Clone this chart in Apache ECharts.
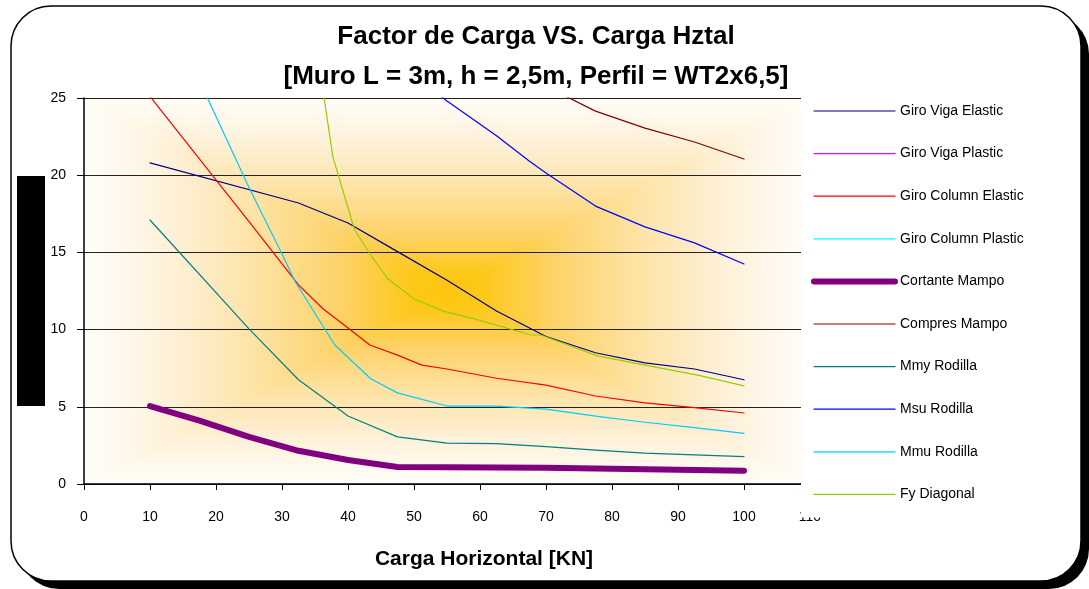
<!DOCTYPE html>
<html>
<head>
<meta charset="utf-8">
<script src="https://cdn.jsdelivr.net/npm/echarts@6/dist/echarts.min.js"></script>
<style>
  html, body { margin: 0; padding: 0; background: #fff; }
  #chart { width: 1089px; height: 589px; }
</style>
</head>
<body>
<div id="chart"></div>
<script>
// each series keeps its own load values (x) and factor values (y)
var seriesNames = ['Giro Viga Elastic', 'Giro Viga Plastic', 'Giro Column Elastic', 'Giro Column Plastic',
    'Cortante Mampo', 'Compres Mampo', 'Mmy Rodilla', 'Msu Rodilla', 'Mmu Rodilla', 'Fy Diagonal'];

var giroVigaElasticX = [10, 32.5, 40, 47.5, 55, 62.5, 70, 77.5, 85, 92.5, 100];
var giroVigaElasticY = [20.8, 18.2, 16.9, 15.05, 13.2, 11.2, 9.55, 8.5, 7.85, 7.45, 6.75];

// plastic rotations stay above the axis range, nothing visible
var giroVigaPlasticX = [];
var giroVigaPlasticY = [];

var giroColElasticX = [10, 25, 32.5, 36.2, 40, 43.3, 47.5, 51.2, 55, 62.5, 70, 77.5, 85, 92.5, 100];
var giroColElasticY = [25.1, 17.0, 12.9, 11.35, 10.1, 9.0, 8.35, 7.7, 7.45, 6.85, 6.4, 5.7, 5.25, 4.95, 4.6];

var giroColPlasticX = [];
var giroColPlasticY = [];

var cortanteX = [10, 17.5, 25, 32.5, 40, 47.5, 55, 62.5, 70, 77.5, 85, 92.5, 100];
var cortanteY = [5.05, 4.1, 3.05, 2.15, 1.55, 1.1, 1.08, 1.07, 1.06, 1.0, 0.95, 0.9, 0.86];

var compresX = [70, 77.5, 85, 92.5, 100];
var compresY = [25.75, 24.15, 23.05, 22.15, 21.05];

var mmyX = [10, 25, 32.5, 40, 47.5, 55, 62.5, 70, 77.5, 85, 92.5, 100];
var mmyY = [17.1, 10.05, 6.75, 4.4, 3.05, 2.65, 2.62, 2.42, 2.2, 2.0, 1.88, 1.77];

var msuX = [47.5, 55, 62.5, 67.5, 70, 77.5, 85, 92.5, 100];
var msuY = [27.3, 24.8, 22.55, 20.9, 20.15, 18.0, 16.65, 15.62, 14.25];

var mmuX = [17.5, 25, 30, 32, 38, 43.5, 47.5, 55, 62.5, 70, 77.5, 85, 92.5, 100];
var mmuY = [26.1, 19.2, 14.9, 13.1, 9.0, 6.8, 5.9, 5.05, 5.05, 4.85, 4.4, 4.0, 3.65, 3.28];

var fyX = [35, 37.7, 41, 43.5, 46, 50, 54.5, 60, 67.7, 69.2, 77.8, 85, 93, 100];
var fyY = [29, 21.2, 16.45, 14.8, 13.3, 12.0, 11.2, 10.6, 9.65, 9.65, 8.3, 7.7, 7.05, 6.35];

var xTicks = [0, 110, 10];
var yTicks = [0, 25, 5];

var allX = [giroVigaElasticX, giroVigaPlasticX, giroColElasticX, giroColPlasticX, cortanteX,
    compresX, mmyX, msuX, mmuX, fyX];
var allY = [giroVigaElasticY, giroVigaPlasticY, giroColElasticY, giroColPlasticY, cortanteY,
    compresY, mmyY, msuY, mmuY, fyY];
var colors = ['#000080', '#ff00ff', '#ff0000', '#00ffff', '#800080',
    '#800000', '#008080', '#0000ff', '#00ccff', '#99cc00'];

function pairs(xs, ys) {
    var out = [];
    for (var i = 0; i < xs.length; i++) out.push([xs[i], ys[i]]);
    return out;
}

var series = [];
for (var i = 0; i < seriesNames.length; i++) {
    var thick = seriesNames[i] === 'Cortante Mampo';
    series.push({
        name: seriesNames[i],
        type: 'line',
        symbol: 'none',
        clip: true,
        data: pairs(allX[i], allY[i]),
        lineStyle: { color: colors[i], width: thick ? 6 : 1.2, cap: 'round', join: 'round' },
        itemStyle: { color: colors[i] },
        emphasis: { disabled: true }
    });
}

var font = 'Liberation Sans, Arial, sans-serif';
var gL = 84, gT = 98, gW = 726, gH = 386;
var gR = gL + gW, gB = gT + gH, cx = gL + gW / 2, cy = gT + gH / 2;

// plot fill: yellow from the centre, rectangular like the spreadsheet one
var fillStops = [
    { offset: 0, color: '#fdc60a' },
    { offset: 0.1, color: '#fdc81a' },
    { offset: 0.3, color: '#fdd369' },
    { offset: 0.55, color: '#fde4aa' },
    { offset: 0.75, color: '#fef0d6' },
    { offset: 0.9, color: '#fff8ec' },
    { offset: 1, color: '#fffdf9' }
];
function lin(x, y, x2, y2) {
    return { type: 'linear', x: x, y: y, x2: x2, y2: y2, colorStops: fillStops };
}
function tri(points, fill) {
    return { type: 'polygon', z: -20, shape: { points: points }, style: { fill: fill, stroke: fill, lineWidth: 0.6 } };
}
var fillParts = [
    tri([[gL, gT], [gR, gT], [cx, cy]], lin(0, 1, 0, 0)),
    tri([[gL, gB], [gR, gB], [cx, cy]], lin(0, 0, 0, 1)),
    tri([[gL, gT], [gL, gB], [cx, cy]], lin(1, 0, 0, 0)),
    tri([[gR, gT], [gR, gB], [cx, cy]], lin(0, 0, 1, 0))
];

var chart = echarts.init(document.getElementById('chart'));
chart.setOption({
    animation: false,
    title: [{
        text: 'Factor de Carga VS. Carga Hztal\n[Muro L = 3m, h = 2,5m, Perfil = WT2x6,5]',
        left: 531,
        top: 12,
        textAlign: 'center',
        textStyle: { fontFamily: font, fontSize: 26, fontWeight: 'bold', color: '#000', lineHeight: 40 }
    }, {
        text: 'Carga Horizontal [KN]',
        left: 479,
        top: 544,
        textAlign: 'center',
        textStyle: { fontFamily: font, fontSize: 21, fontWeight: 'bold', color: '#000' }
    }],
    legend: {
        orient: 'vertical',
        left: 801,
        top: 98,
        padding: [6, 12, 16, 10],
        backgroundColor: '#fff',
        itemWidth: 81,
        itemHeight: 14,
        itemGap: 28.6,
        selectedMode: false,
        data: seriesNames,
        itemStyle: { opacity: 0 },
        lineStyle: { width: 'inherit' },
        textStyle: { fontFamily: font, fontSize: 14, color: '#000' }
    },
    grid: { left: gL, top: gT, width: gW, height: gH },
    xAxis: {
        type: 'value',
        min: xTicks[0],
        max: xTicks[1],
        interval: xTicks[2],
        axisLine: { lineStyle: { color: '#000', width: 1.5 } },
        axisTick: { length: 6, lineStyle: { color: '#000' } },
        axisLabel: { margin: 26, fontFamily: font, fontSize: 14, color: '#000' },
        splitLine: { show: false }
    },
    yAxis: {
        type: 'value',
        min: yTicks[0],
        max: yTicks[1],
        interval: yTicks[2],
        axisLine: { show: true, lineStyle: { color: '#000', width: 1.5 } },
        axisTick: { show: true, length: 7, lineStyle: { color: '#000' } },
        axisLabel: { margin: 18, fontFamily: font, fontSize: 14, color: '#000' },
        splitLine: { show: true, lineStyle: { color: '#222', width: 1 } }
    },
    graphic: [{
        // outer frame shadow
        type: 'rect',
        z: -30,
        shape: { x: 19, y: 14, width: 1070, height: 575, r: 40 },
        style: { fill: '#000' }
    }, {
        type: 'rect',
        z: -29,
        shape: { x: 11, y: 6, width: 1070, height: 575, r: 40 },
        style: { fill: '#fff', stroke: '#000', lineWidth: 1.5 }
    }].concat(fillParts).concat([{
        // black block left of the value axis
        type: 'rect',
        z: -10,
        shape: { x: 17, y: 176, width: 28, height: 230 },
        style: { fill: '#000' }
    }]),
    series: series
});
</script>
</body>
</html>
